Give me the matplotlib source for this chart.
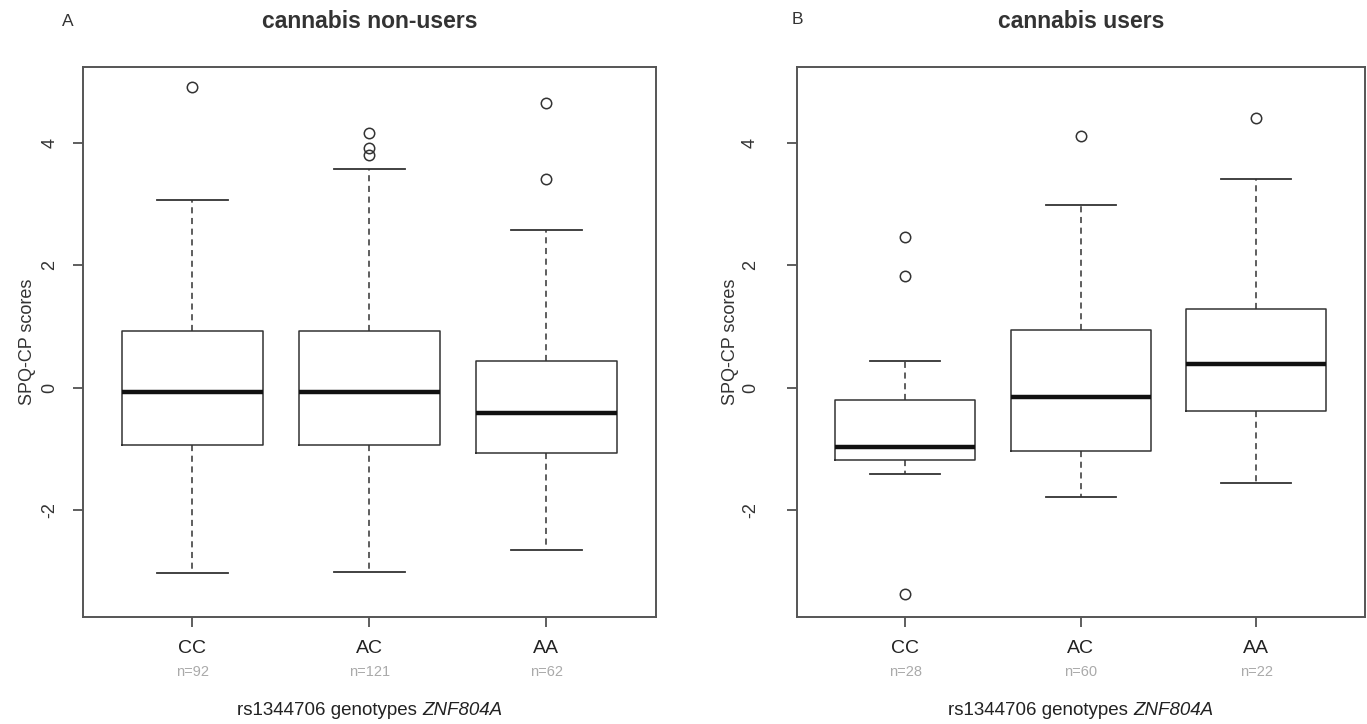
import matplotlib
matplotlib.use("Agg")
import matplotlib.pyplot as plt
from matplotlib.transforms import blended_transform_factory

plt.rcParams['font.family'] = ['Liberation Sans', 'DejaVu Sans']

genotypes = ["CC", "AC", "AA"]

# panel A: cannabis non-users
a_n = [92, 121, 62]
a_whislo = [-3.04, -3.02, -2.65]
a_q1 = [-0.94, -0.94, -1.07]
a_med = [-0.08, -0.07, -0.42]
a_q3 = [0.92, 0.92, 0.44]
a_whishi = [3.07, 3.58, 2.58]
a_fliers = [[4.91], [4.17, 3.92, 3.80], [4.66, 3.41]]

# panel B: cannabis users
b_n = [28, 60, 22]
b_whislo = [-1.41, -1.79, -1.56]
b_q1 = [-1.19, -1.04, -0.39]
b_med = [-0.98, -0.15, 0.39]
b_q3 = [-0.21, 0.94, 1.28]
b_whishi = [0.44, 2.99, 3.41]
b_fliers = [[2.46, 1.82, -3.38], [4.11], [4.41]]

yticks = [-2, 0, 2, 4]
xlabel_plain = "rs1344706 genotypes "
xlabel_italic = "ZNF804A"

fig = plt.figure(figsize=(13.67, 7.24), dpi=100)
axA = fig.add_axes([0.0605, 0.148, 0.4195, 0.760])
axB = fig.add_axes([0.5827, 0.148, 0.4158, 0.760])
renderer = fig.canvas.get_renderer()

edge = "#333333"

def draw(ax, n, lo, q1, med, q3, hi, fl, title, ypad, lpad):
    stats = []
    for i in range(len(genotypes)):
        stats.append(dict(med=med[i], q1=q1[i], q3=q3[i], whislo=lo[i],
                          whishi=hi[i], fliers=fl[i], label=genotypes[i]))
    ax.bxp(stats, positions=[1, 2, 3], widths=0.8, capwidths=0.4,
           showfliers=True, patch_artist=False,
           boxprops=dict(color=edge, lw=1.1),
           medianprops=dict(color="#111111", lw=3.2, solid_capstyle="butt"),
           whiskerprops=dict(color=edge, lw=1.1, linestyle=(0, (4, 3))),
           capprops=dict(color=edge, lw=1.3),
           flierprops=dict(marker="o", markerfacecolor="none",
                           markeredgecolor=edge, markersize=7.5,
                           markeredgewidth=1.1, linestyle="none"))
    ax.set_xlim(0.38, 3.62)
    ax.set_ylim(-3.75, 5.25)
    ax.set_yticks(yticks)
    ax.set_yticklabels([str(t) for t in yticks], rotation=90, va="center",
                       fontsize=13, color="#333333")
    ax.set_xticks([1, 2, 3])
    ax.set_xticklabels(genotypes, fontsize=14, color="#222222")
    ax.tick_params(axis="both", direction="out", length=7, width=1.1,
                   color=edge)
    ax.tick_params(axis="x", pad=10)
    ax.tick_params(axis="y", pad=ypad)
    for s in ax.spines.values():
        s.set_color("#555555")
        s.set_linewidth(1.4)
    trans = blended_transform_factory(ax.transData, fig.transFigure)
    for i, g in enumerate(genotypes):
        ax.text(i + 1, 1 - 672 / 724, "n=%d" % n[i], transform=trans,
                ha="center", va="center", fontsize=10.5, color="#aaaaaa")
    ax.set_ylabel("SPQ-CP scores", fontsize=13, color="#333333",
                  labelpad=lpad)
    # x label: plain part + italic gene name, centred together
    btr = blended_transform_factory(ax.transAxes, fig.transFigure)
    t1 = ax.text(0.5, 1 - 710 / 724, xlabel_plain, transform=btr,
                 ha="left", va="baseline", fontsize=13.5, color="#222222")
    t2 = ax.text(0.5, 1 - 710 / 724, xlabel_italic, transform=btr,
                 ha="left", va="baseline", fontsize=13.5, color="#222222",
                 style="italic")
    w1 = t1.get_window_extent(renderer).width
    w2 = t2.get_window_extent(renderer).width
    axw = ax.get_window_extent(renderer).width
    x0 = 0.5 - (w1 + w2) / 2 / axw
    t1.set_x(x0)
    t2.set_x(x0 + w1 / axw)
    for t in (t1, t2):
        t.set_y(1 - 715 / 724)
    ax.text(0.5, 1 - 21 / 724, title, transform=btr,
            ha="center", va="center", fontsize=16.5, fontweight="bold",
            color="#333333")
    return ax

draw(axA, a_n, a_whislo, a_q1, a_med, a_q3, a_whishi, a_fliers,
     "cannabis non-users", 10.5, 4)
draw(axB, b_n, b_whislo, b_q1, b_med, b_q3, b_whishi, b_fliers,
     "cannabis users", 20, 2.5)

fig.text(68 / 1367, 1 - 22 / 724, "A", ha="center", va="center",
         fontsize=12.5, color="#333333")
fig.text(797 / 1367, 1 - 20 / 724, "B", ha="center", va="center",
         fontsize=12.5, color="#333333")

fig.savefig("out.png", dpi=100)
